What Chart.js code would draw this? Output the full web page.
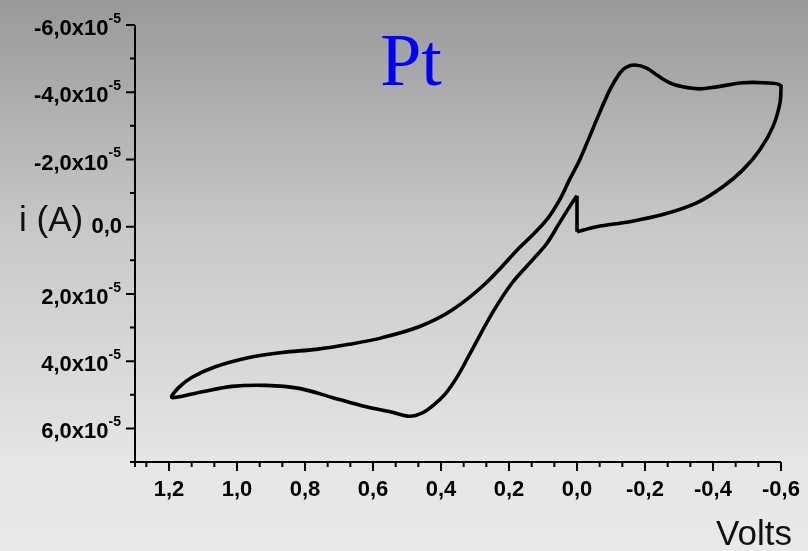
<!DOCTYPE html>
<html>
<head>
<meta charset="utf-8">
<script src="https://cdn.jsdelivr.net/npm/chart.js"></script>
<style>
  html, body { margin: 0; padding: 0; }
  body {
    width: 808px; height: 551px; overflow: hidden;
    background: linear-gradient(to bottom, #999999 0%, #c8c8c8 42%, #e5e5e5 84%, #e9e9e9 100%);
  }
  canvas { display: block; }
</style>
</head>
<body>
<canvas id="cv" width="808" height="551"></canvas>
<script>
// Potential sweep (V) and current (x10^-5 A).
// Starts at 0 V, goes to -0.6 V, back to 1.2 V, then back to 0 V.
const sweepVolts = [
  0.0, -0.058, -0.155, -0.252, -0.352, -0.429, -0.488, -0.538, -0.576, -0.597, -0.600,
  -0.547, -0.488, -0.411, -0.361, -0.311, -0.273, -0.235, -0.205, -0.170, -0.146, -0.126,
  -0.098, -0.067, -0.008, 0.022, 0.051, 0.089, 0.139, 0.169, 0.266, 0.366, 0.463,
  0.572, 0.670, 0.767, 0.867, 0.964, 1.062, 1.132, 1.171, 1.191,
  1.112, 1.014, 0.914, 0.817, 0.720, 0.620, 0.543, 0.493, 0.455, 0.425, 0.388,
  0.352, 0.316, 0.248, 0.190, 0.130, 0.089, 0.051, 0.022, 0.0
];
const sweepCurrent = [
  0.15, 0.0, -0.15, -0.36, -0.71, -1.19, -1.69, -2.29, -2.97, -3.68, -4.19,
  -4.28, -4.28, -4.16, -4.10, -4.16, -4.28, -4.51, -4.72, -4.81, -4.75, -4.57,
  -4.10, -3.40, -1.99, -1.40, -0.80, -0.21, 0.33, 0.62, 1.66, 2.47, 2.97,
  3.30, 3.50, 3.65, 3.74, 3.89, 4.16, 4.48, 4.78, 5.08,
  4.93, 4.75, 4.72, 4.81, 5.08, 5.36, 5.52, 5.64, 5.54, 5.33, 4.98,
  4.46, 3.80, 2.55, 1.66, 0.98, 0.50, -0.12, -0.59, -0.92
];
// vertical step back to the starting point at 0 V
const stepVolts = [0.0, 0.0];
const stepCurrent = [-0.92, 0.15];

const xTicks = [1.2, 1.0, 0.8, 0.6, 0.4, 0.2, 0.0, -0.2, -0.4, -0.6];
const xTickLabels = ['1,2', '1,0', '0,8', '0,6', '0,4', '0,2', '0,0', '-0,2', '-0,4', '-0,6'];
const yTicks = [-6, -4, -2, 0, 2, 4, 6];
const yTickLabels = ['-6,0', '-4,0', '-2,0', '0,0', '2,0', '4,0', '6,0'];
const yExponent = '-5';

const X_MIN = -0.6, X_MAX = 1.3;
const Y_MIN = -6, Y_MAX = 7;

// minor ticks: two between x majors, one between y majors
const xMinor = [];
xTicks.forEach(t => {
  [t + 0.2 / 3, t + 0.4 / 3].forEach(m => { if (m <= X_MAX + 1e-6) xMinor.push(m); });
});
xMinor.push(X_MAX);
const yMinor = [];
yTicks.forEach(t => { if (t + 1 <= Y_MAX) yMinor.push(t + 1); });

const FONT = '"Liberation Sans", Arial, sans-serif';

const axisDecor = {
  id: 'axisDecor',
  beforeDatasetsDraw(chart) {
    const { ctx, chartArea: a, scales: { x, y } } = chart;
    ctx.save();
    ctx.strokeStyle = '#000';
    ctx.fillStyle = '#000';
    ctx.lineWidth = 2;

    // axis lines
    ctx.beginPath();
    ctx.moveTo(a.left, a.top);
    ctx.lineTo(a.left, a.bottom);
    ctx.lineTo(a.right, a.bottom);
    ctx.stroke();

    // x ticks
    ctx.beginPath();
    xTicks.forEach(v => {
      const px = x.getPixelForValue(v);
      ctx.moveTo(px, a.bottom); ctx.lineTo(px, a.bottom + 9);
    });
    xMinor.forEach(v => {
      const px = x.getPixelForValue(v);
      ctx.moveTo(px, a.bottom); ctx.lineTo(px, a.bottom + 5);
    });
    // y ticks
    yTicks.forEach(v => {
      const py = y.getPixelForValue(v);
      ctx.moveTo(a.left, py); ctx.lineTo(a.left - 9, py);
    });
    yMinor.forEach(v => {
      const py = y.getPixelForValue(v);
      ctx.moveTo(a.left, py); ctx.lineTo(a.left - 5, py);
    });
    ctx.stroke();

    // x tick labels
    ctx.font = 'bold 22px ' + FONT;
    ctx.textAlign = 'center';
    ctx.textBaseline = 'middle';
    xTicks.forEach((v, i) => {
      ctx.fillText(xTickLabels[i], x.getPixelForValue(v), a.bottom + 28);
    });

    // y tick labels, with superscript exponent
    yTicks.forEach((v, i) => {
      const py = y.getPixelForValue(v);
      const right = a.left - 14;
      if (v === 0) {
        ctx.font = 'bold 22px ' + FONT;
        ctx.textAlign = 'right';
        ctx.textBaseline = 'middle';
        ctx.fillText(yTickLabels[i], right + 1, py);
        return;
      }
      ctx.font = 'bold 14px ' + FONT;
      const expW = ctx.measureText(yExponent).width;
      ctx.textAlign = 'left';
      ctx.textBaseline = 'alphabetic';
      ctx.fillText(yExponent, right - expW, py - 2);
      ctx.font = 'bold 22px ' + FONT;
      ctx.textAlign = 'right';
      ctx.textBaseline = 'middle';
      ctx.fillText(yTickLabels[i] + 'x10', right - expW, py + 4);
    });

    // axis titles
    ctx.font = '35px ' + FONT;
    ctx.textBaseline = 'middle';
    ctx.textAlign = 'left';
    ctx.fillStyle = '#111';
    ctx.fillText('i (A)', 19, 221);
    ctx.textAlign = 'right';
    ctx.textBaseline = 'alphabetic';
    ctx.fillText('Volts', 792, 545);

    // panel title
    ctx.font = '74px "Liberation Serif", "Times New Roman", serif';
    ctx.fillStyle = '#0000ff';
    ctx.textAlign = 'center';
    ctx.fillText('Pt', 411, 85);
    ctx.restore();
  }
};

new Chart(document.getElementById('cv'), {
  type: 'scatter',
  data: {
    datasets: [
      {
        data: sweepVolts.map((v, i) => ({ x: v, y: sweepCurrent[i] })),
        showLine: true,
        borderColor: '#000',
        borderWidth: 3.6,
        pointRadius: 0,
        tension: 0.35,
        clip: false
      },
      {
        data: stepVolts.map((v, i) => ({ x: v, y: stepCurrent[i] })),
        showLine: true,
        borderColor: '#000',
        borderWidth: 3.6,
        pointRadius: 0,
        tension: 0,
        clip: false
      }
    ]
  },
  options: {
    responsive: false,
    animation: false,
    layout: { padding: { left: 135, top: 25, right: 27, bottom: 89 } },
    plugins: { legend: { display: false }, tooltip: { enabled: false } },
    scales: {
      x: { type: 'linear', display: false, min: X_MIN, max: X_MAX, reverse: true },
      y: { type: 'linear', display: false, min: Y_MIN, max: Y_MAX, reverse: true }
    }
  },
  plugins: [axisDecor]
});
</script>
</body>
</html>
